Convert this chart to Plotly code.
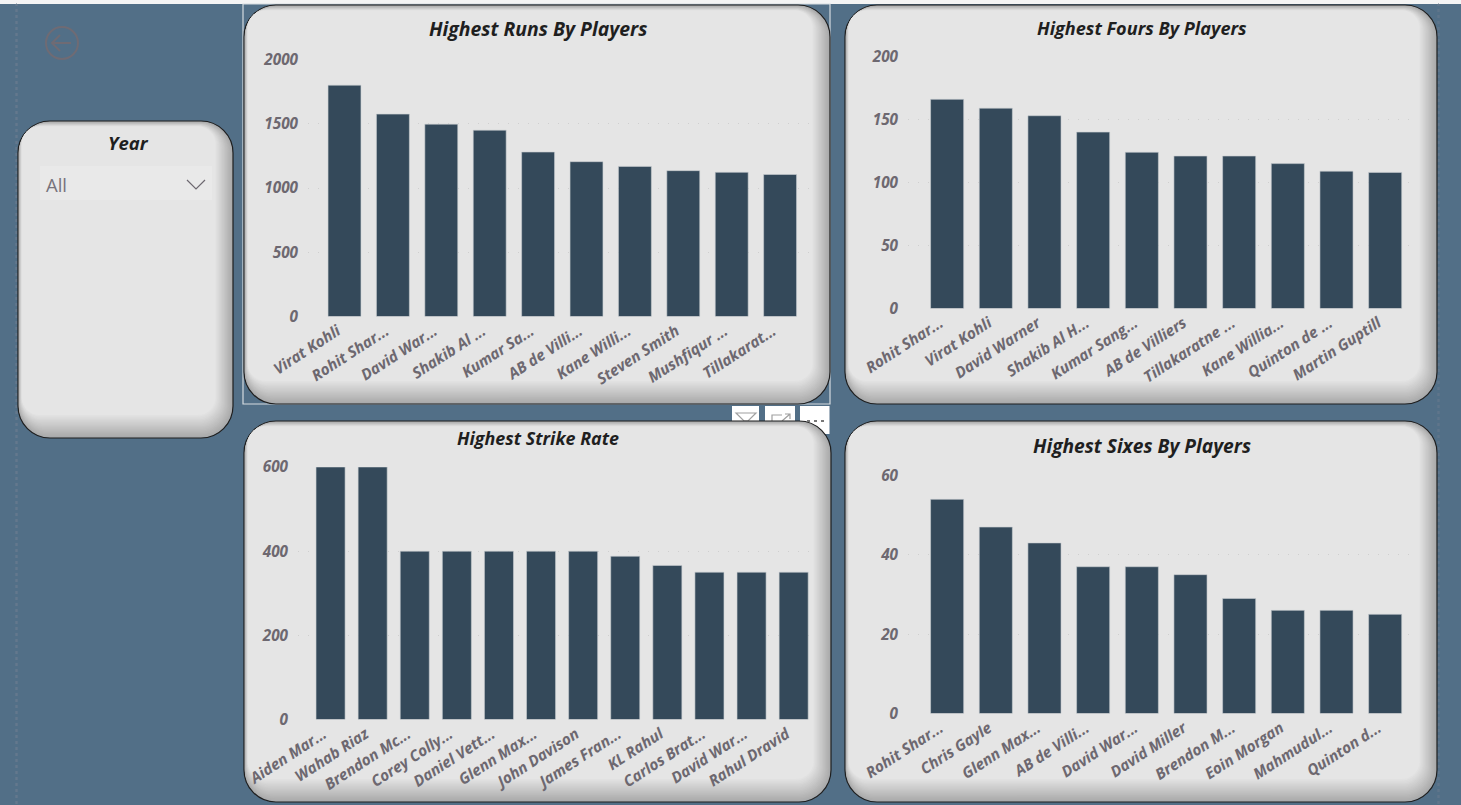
import plotly.graph_objects as go

W, H = 1461, 805

runs_players = ["Virat Kohli", "Rohit Shar...", "David War...", "Shakib Al ...", "Kumar Sa...", "AB de Villi...", "Kane Willi...", "Steven Smith", "Mushfiqur ...", "Tillakarat..."]
runs_values = [1800, 1575, 1497, 1450, 1280, 1205, 1168, 1135, 1122, 1105]

fours_players = ["Rohit Shar...", "Virat Kohli", "David Warner", "Shakib Al H...", "Kumar Sang...", "AB de Villiers", "Tillakaratne ...", "Kane Willia...", "Quinton de ...", "Martin Guptill"]
fours_values = [166, 159, 153, 140, 124, 121, 121, 115, 109, 108]

strike_players = ["Aiden Mar...", "Wahab Riaz", "Brendon Mc...", "Corey Colly...", "Daniel Vett...", "Glenn Max...", "John Davison", "James Fran...", "KL Rahul", "Carlos Brat...", "David War...", "Rahul Dravid"]
strike_values = [600, 600, 400, 400, 400, 400, 400, 388, 366, 350, 350, 350]

sixes_players = ["Rohit Shar...", "Chris Gayle", "Glenn Max...", "AB de Villi...", "David War...", "David Miller", "Brendon M...", "Eoin Morgan", "Mahmudul...", "Quinton d..."]
sixes_values = [54, 47, 43, 37, 37, 35, 29, 26, 26, 25]

BG = "#526f87"
BAR = "#34495a"
TICK = "#6d6870"
FONT = "Open Sans"


def px(x):
    return x / W


def py(y):
    return 1 - y / H


def round_rect(x0, y0, x1, y1, r):
    k = r * 0.45
    pts = [
        f"M{px(x0 + r)},{py(y0)}", f"L{px(x1 - r)},{py(y0)}",
        f"C{px(x1 - k)},{py(y0)} {px(x1)},{py(y0 + k)} {px(x1)},{py(y0 + r)}",
        f"L{px(x1)},{py(y1 - r)}",
        f"C{px(x1)},{py(y1 - k)} {px(x1 - k)},{py(y1)} {px(x1 - r)},{py(y1)}",
        f"L{px(x0 + r)},{py(y1)}",
        f"C{px(x0 + k)},{py(y1)} {px(x0)},{py(y1 - k)} {px(x0)},{py(y1 - r)}",
        f"L{px(x0)},{py(y0 + r)}",
        f"C{px(x0)},{py(y0 + k)} {px(x0 + k)},{py(y0)} {px(x0 + r)},{py(y0)}", "Z",
    ]
    return " ".join(pts)


def path(d, fill=None, line=None, width=1, dash=None):
    s = dict(type="path", xref="paper", yref="paper", path=d, layer="below",
             line=dict(color=line or "rgba(0,0,0,0)", width=width if line else 0))
    if dash:
        s["line"]["dash"] = dash
    if fill:
        s["fillcolor"] = fill
    return s


def rect(x0, y0, x1, y1, fill=None, line=None, width=1, dash=None):
    s = dict(type="rect", xref="paper", yref="paper", x0=px(x0), x1=px(x1), y0=py(y0), y1=py(y1),
             layer="below", line=dict(color=line or "rgba(0,0,0,0)", width=width if line else 0))
    if dash:
        s["line"]["dash"] = dash
    if fill:
        s["fillcolor"] = fill
    return s


def card(x0, y0, x1, y1, r=32):
    out = [path(round_rect(x0, y0, x1, y1, r), fill="#a9abad", line="#1e1e1e", width=1.2)]
    steps = 16
    for i in range(1, steps + 1):
        t = i / steps
        g = int(0xab + (0xe5 - 0xab) * t)
        out.append(path(round_rect(x0 + 0.6 + 0.2 * i, y0 + 0.6 + 0.3 * i,
                                   x1 - 0.6 - 1.05 * i, y1 - 0.6 - 1.4 * i, max(r - 0.9 * i, 8)),
                        fill=f"rgb({g},{g},{g})"))
    return out


shapes = [
    rect(0, 0, W, 4, fill="#f4f4f4"),
    rect(16, 4, 17, H, line="#6a7d8f", width=1, dash="dot"),
    rect(1438, 4, 1439, H, line="#64798c", width=1, dash="dot"),
    rect(243, 4, 830, 404, line="#d5dbe0", width=1.2),
    rect(732, 406, 759, 425, fill="#ffffff"),
    rect(765, 406, 795, 425, fill="#ffffff"),
    rect(800, 406, 829.5, 434, fill="#ffffff"),
    path(f"M{px(736)},{py(413)} L{px(756)},{py(413)} L{px(748)},{py(421)} L{px(744)},{py(421)} Z", line="#a0a0a0", width=1.2),
    path(f"M{px(772)},{py(421)} L{px(772)},{py(415)} L{px(782)},{py(415)} M{px(785)},{py(414)} L{px(790)},{py(414)} L{px(790)},{py(419)} M{px(790)},{py(414)} L{px(782)},{py(421)}", line="#a0a0a0", width=1.2),
]
shapes += card(18, 121, 233, 438)
shapes += card(244, 5, 830, 404)
shapes += card(845, 5, 1437, 404)
shapes += card(244, 421, 831, 802)
shapes += card(845, 421, 1437, 802)
shapes += [
    rect(40, 166, 212, 200, fill="#e9e9e9"),
    path(f"M{px(187)},{py(180)} L{px(196)},{py(189)} L{px(205)},{py(180)}", line="#6d6870", width=1.2),
    dict(type="circle", xref="paper", yref="paper", x0=px(46), x1=px(78), y0=py(59), y1=py(27),
         layer="below", line=dict(color="#6f6b74", width=2)),
    path(f"M{px(71)},{py(43)} L{px(52)},{py(43)} M{px(60)},{py(35)} L{px(52)},{py(43)} L{px(60)},{py(51)}", line="#6f6b74", width=2),
    rect(807, 420, 810, 422, fill="#777777"),
    rect(814, 420, 817, 422, fill="#777777"),
    rect(821, 420, 824, 422, fill="#777777"),
]

# name, players, values, axis max, dtick, plot-left px, first band start px, band width px, right px, y-top px, y-zero px, bar fraction
panels = [
    ("", runs_players, runs_values, 2000, 500, 308, 320.3, 48.4, 812, 59.5, 316.5, 0.68),
    ("2", fours_players, fours_values, 200, 50, 908, 922.8, 48.67, 1415, 56.5, 308.5, 0.68),
    ("3", strike_players, strike_values, 600, 200, 298, 309.5, 42.1, 818, 467, 719.5, 0.69),
    ("4", sixes_players, sixes_values, 60, 20, 908, 922.8, 48.67, 1415, 475.5, 713.5, 0.68),
]

fig = go.Figure()
layout_axes = {}
for sfx, names, vals, ymax, dt, left, start, band, right, ytop, yzero, frac in panels:
    fig.add_trace(go.Bar(x=list(range(len(names))), y=vals, xaxis="x" + sfx, yaxis="y" + sfx,
                         marker=dict(color=BAR, line=dict(color="#c9ced2", width=0.6)),
                         width=frac, showlegend=False,
                         hovertemplate="%{text}: %{y}<extra></extra>", text=names, textposition="none"))
    r0 = -0.5 - (start - left) / band
    r1 = -0.5 + (right - start) / band
    tf = dict(family=FONT, size=15.3, color=TICK, weight="bold", style="italic")
    layout_axes["xaxis" + sfx] = dict(
        domain=[px(left), px(right)], range=[r0, r1], anchor="y" + sfx, automargin=False,
        tickmode="array", tickvals=list(range(len(names))), ticktext=names, tickangle=-33,
        tickfont=tf, showgrid=False, zeroline=False, showline=False, ticks="", ticklabelstandoff=2,
        ticklabelshift=-7,
    )
    layout_axes["yaxis" + sfx] = dict(
        domain=[py(yzero), py(ytop)], range=[0, ymax], anchor="x" + sfx, dtick=dt, automargin=False,
        tickfont=tf, showgrid=True, gridcolor="#cfcfcf", griddash="1px,9px", gridwidth=1,
        zeroline=False, showline=False, ticks="", ticklabelstandoff=9,
    )

titles = [
    ("Highest Runs By Players", 538, 28.5, 19.4),
    ("Highest Fours By Players", 1142, 27.5, 18.1),
    ("Highest Strike Rate", 538, 438, 17.9),
    ("Highest Sixes By Players", 1142, 445, 19.2),
    ("Year", 128, 143, 18.5),
]
annotations = [
    dict(text=t, x=px(x), y=py(y), xref="paper", yref="paper", showarrow=False, xanchor="center", yanchor="middle",
         font=dict(family=FONT, size=s, color="#1f1f1f", weight="bold", style="italic"))
    for t, x, y, s in titles
]
annotations.append(dict(text="All", x=px(44), y=py(184.5), xref="paper", yref="paper", showarrow=False,
                        xanchor="left", yanchor="middle", font=dict(family=FONT, size=18.5, color="#77737c")))

fig.update_layout(width=W, height=H, autosize=False, margin=dict(l=0, r=0, t=0, b=0, pad=0),
                  paper_bgcolor=BG, plot_bgcolor="rgba(0,0,0,0)", shapes=shapes, annotations=annotations,
                  bargap=0.32, **layout_axes)

fig.write_html("out.html", config=dict(displayModeBar=False),
               post_script="document.body.style.margin='0';document.body.style.background='" + BG + "';")
